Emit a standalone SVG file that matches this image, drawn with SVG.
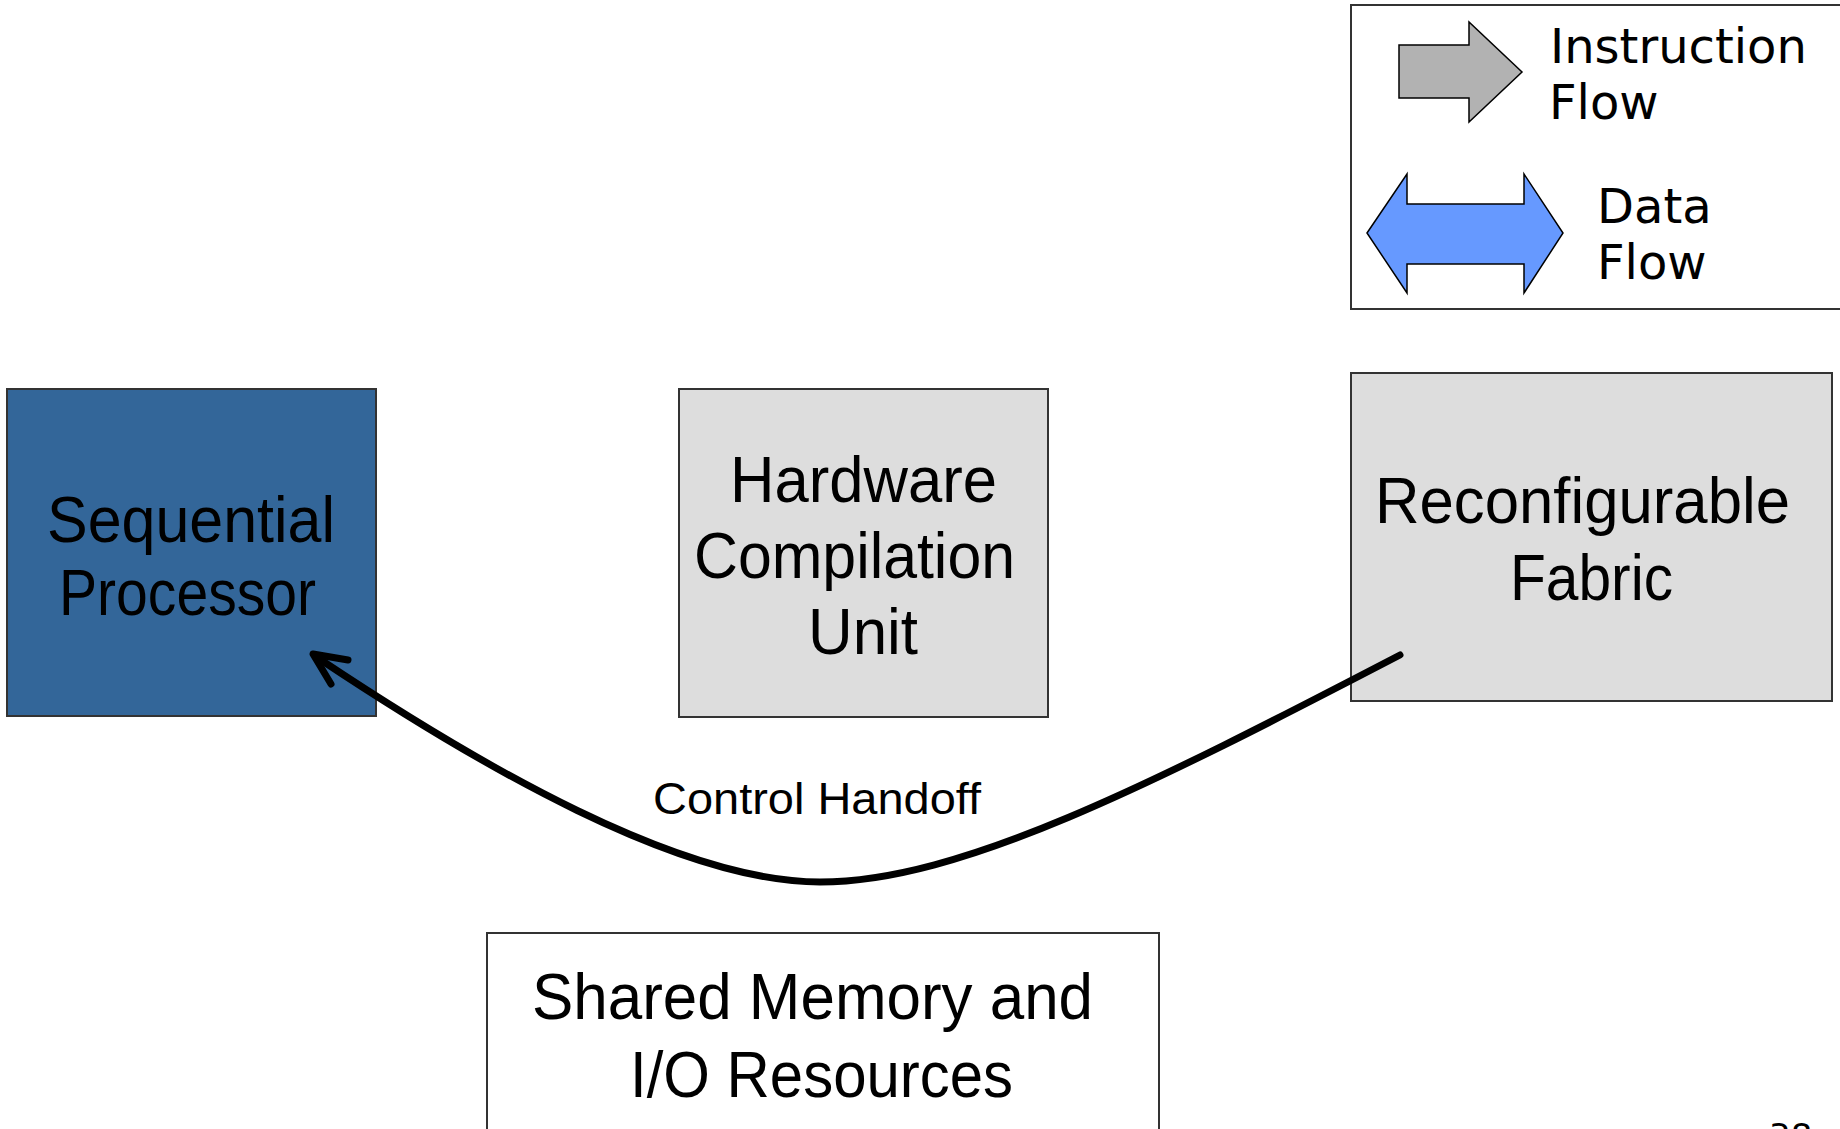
<svg xmlns="http://www.w3.org/2000/svg" width="1840" height="1129" viewBox="0 0 1840 1129">
  <style>
    .box { stroke: #333333; stroke-width: 2; }
    .label { font-family: "Liberation Sans", Arial, sans-serif; font-size: 64px; fill: #000000; }
    .legend-text { font-family: "DejaVu Sans", Verdana, sans-serif; font-size: 48px; fill: #000000; }
    .edge-label { font-family: "Liberation Sans", Arial, sans-serif; font-size: 45px; fill: #000000; }
    .wire { fill: none; stroke: #000000; stroke-width: 7; stroke-linecap: round; stroke-linejoin: round; }
  </style>

  <rect x="0" y="0" width="1840" height="1129" fill="#ffffff"/>

  <!-- Legend -->
  <g id="legend">
    <rect x="1351" y="5" width="500" height="304" fill="#ffffff" class="box"/>
    <polygon points="1399,45 1469,45 1469,22 1522,72 1469,122 1469,98 1399,98" fill="#B2B2B2" stroke="#000000" stroke-width="1.5"/>
    <text class="legend-text" x="1550" y="63">Instruction</text>
    <text class="legend-text" x="1549" y="119">Flow</text>
    <polygon points="1367,233 1407,174 1407,204 1524,204 1524,174 1563,233 1524,293 1524,264 1407,264 1407,293" fill="#6699FF" stroke="#000000" stroke-width="1.5"/>
    <text class="legend-text" x="1597" y="223">Data</text>
    <text class="legend-text" x="1597" y="279">Flow</text>
  </g>

  <!-- Sequential Processor -->
  <g id="sequential-processor">
    <rect x="7" y="389" width="369" height="327" fill="#336699" class="box"/>
    <text class="label" x="47" y="542" textLength="288" lengthAdjust="spacingAndGlyphs">Sequential</text>
    <text class="label" x="59" y="615" textLength="257" lengthAdjust="spacingAndGlyphs">Processor</text>
  </g>

  <!-- Hardware Compilation Unit -->
  <g id="hardware-compilation-unit">
    <rect x="679" y="389" width="369" height="328" fill="#DDDDDD" class="box"/>
    <text class="label" x="730" y="502" textLength="267" lengthAdjust="spacingAndGlyphs">Hardware</text>
    <text class="label" x="694" y="578" textLength="321" lengthAdjust="spacingAndGlyphs">Compilation</text>
    <text class="label" x="808" y="654" textLength="110" lengthAdjust="spacingAndGlyphs">Unit</text>
  </g>

  <!-- Reconfigurable Fabric -->
  <g id="reconfigurable-fabric">
    <rect x="1351" y="373" width="481" height="328" fill="#DDDDDD" class="box"/>
    <text class="label" x="1375" y="523" textLength="415" lengthAdjust="spacingAndGlyphs">Reconfigurable</text>
    <text class="label" x="1510" y="600" textLength="163" lengthAdjust="spacingAndGlyphs">Fabric</text>
  </g>

  <!-- Shared Memory and I/O Resources -->
  <g id="shared-memory">
    <rect x="487" y="933" width="672" height="220" fill="#ffffff" class="box"/>
    <text class="label" x="532" y="1019" textLength="561" lengthAdjust="spacingAndGlyphs">Shared Memory and</text>
    <text class="label" x="630" y="1097" textLength="383" lengthAdjust="spacingAndGlyphs">I/O Resources</text>
  </g>

  <!-- Connectors -->
  <g id="connectors">
    <path class="wire" d="M1400,655 C1150,785 960,882 820,882 C680,882 480,766 318,658"/>
    <path class="wire" d="M348,660 L313,654 L331,684"/>
    <text class="edge-label" x="653" y="814" textLength="328" lengthAdjust="spacingAndGlyphs">Control Handoff</text>
  </g>

  <!-- Slide number -->
  <text x="1769" y="1148" font-family="DejaVu Sans, Verdana, sans-serif" font-size="34" fill="#000000">38</text>
</svg>
